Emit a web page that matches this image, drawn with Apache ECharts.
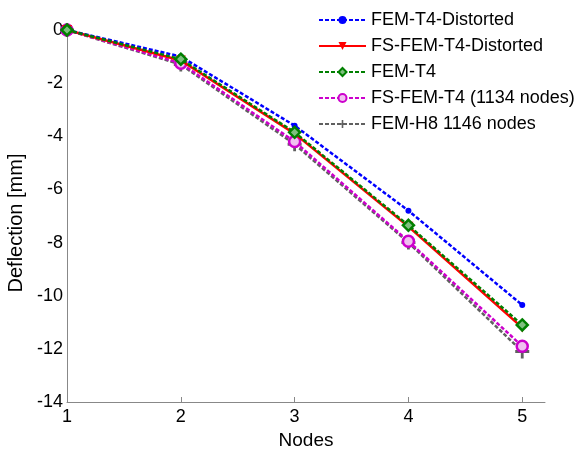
<!DOCTYPE html>
<html><head><meta charset="utf-8">
<script src="https://cdn.jsdelivr.net/npm/echarts@6/dist/echarts.min.js"></script>
<style>html,body{margin:0;padding:0;background:#fff}#c{width:588px;height:450px}</style>
</head><body><div id="c"></div>
<script>
const nodes = [1, 2, 3, 4, 5];
const femT4Distorted = [0, -1.0, -3.6, -6.8, -10.35];
const fsFemT4Distorted = [0, -1.15, -3.9, -7.4, -11.2];
const femT4 = [0, -1.1, -3.85, -7.35, -11.1];
const fsFemT4 = [0, -1.25, -4.2, -7.95, -11.9];
const femH8 = [0, -1.3, -4.3, -8.0, -12.1];

const pair = arr => nodes.map((n, i) => [n, arr[i]]);
const plus = 'path://M4,0 L6,0 L6,4 L10,4 L10,6 L6,6 L6,10 L4,10 L4,6 L0,6 L0,4 L4,4 Z';
const font = 'Liberation Sans, Arial, sans-serif';

const chart = echarts.init(document.getElementById('c'));
chart.setOption({
  animation: false,
  backgroundColor: '#fff',
  textStyle: { fontFamily: font },
  grid: { left: 67, right: 43, top: 30, bottom: 48, outerBoundsMode: 'none', containLabel: false },
  legend: {
    orient: 'vertical', left: 313, top: 6,
    itemWidth: 47, itemHeight: 10, itemGap: 8,
    textStyle: { fontSize: 18, color: '#000', fontFamily: font, lineHeight: 18 },
    data: ['FEM-T4-Distorted', 'FS-FEM-T4-Distorted', 'FEM-T4', 'FS-FEM-T4 (1134 nodes)', 'FEM-H8 1146 nodes']
  },
  xAxis: {
    type: 'value', min: 1, max: 5.2, interval: 1,
    name: 'Nodes', nameLocation: 'middle', nameGap: 25,
    nameTextStyle: { fontSize: 19, color: '#000' },
    axisLine: { onZero: false, lineStyle: { color: '#888', width: 1 } },
    axisTick: { inside: true, length: 5, lineStyle: { color: '#888' } },
    axisLabel: { fontSize: 18, color: '#000', margin: 6, showMaxLabel: false },
    splitLine: { show: false }
  },
  yAxis: {
    type: 'value', min: -14, max: 0, interval: 2,
    name: 'Deflection [mm]', nameLocation: 'middle', nameGap: 38,
    nameTextStyle: { fontSize: 20, color: '#000', padding: [0, 14, 0, 0] },
    axisLine: { show: true, onZero: false, lineStyle: { color: '#888', width: 1 } },
    axisTick: { show: false },
    axisLabel: { fontSize: 18, color: '#000', margin: 4 },
    splitLine: { show: false }
  },
  series: [
    { name: 'FEM-T4-Distorted', type: 'line', data: pair(femT4Distorted),
      lineStyle: { color: '#0000ff', width: 2.5, type: [4, 2] },
      itemStyle: { color: '#0000ff' }, symbol: 'circle', symbolSize: 6, z: 5 },
    { name: 'FS-FEM-T4-Distorted', type: 'line', data: pair(fsFemT4Distorted),
      lineStyle: { color: '#ff0000', width: 2.5, type: 'solid' },
      itemStyle: { color: '#ff0000' }, symbol: 'triangle', symbolRotate: 180, symbolSize: 10, z: 4 },
    { name: 'FEM-T4', type: 'line', data: pair(femT4),
      lineStyle: { color: '#008000', width: 2.5, type: [4, 2] },
      itemStyle: { color: '#7fbf7f', borderColor: '#008000', borderWidth: 2.5 }, symbol: 'diamond', symbolSize: 11, z: 5 },
    { name: 'FS-FEM-T4 (1134 nodes)', type: 'line', data: pair(fsFemT4),
      lineStyle: { color: '#cc00cc', width: 2.5, type: [4, 2] },
      itemStyle: { color: '#f0c0f0', borderColor: '#cc00cc', borderWidth: 2.5 }, symbol: 'circle', symbolSize: 11, z: 3 },
    { name: 'FEM-H8 1146 nodes', type: 'line', data: pair(femH8),
      lineStyle: { color: '#606060', width: 2.5, type: [4, 2] },
      itemStyle: { color: '#606060' }, symbol: plus, symbolSize: 14, z: 2 }
  ]
});
</script></body></html>
